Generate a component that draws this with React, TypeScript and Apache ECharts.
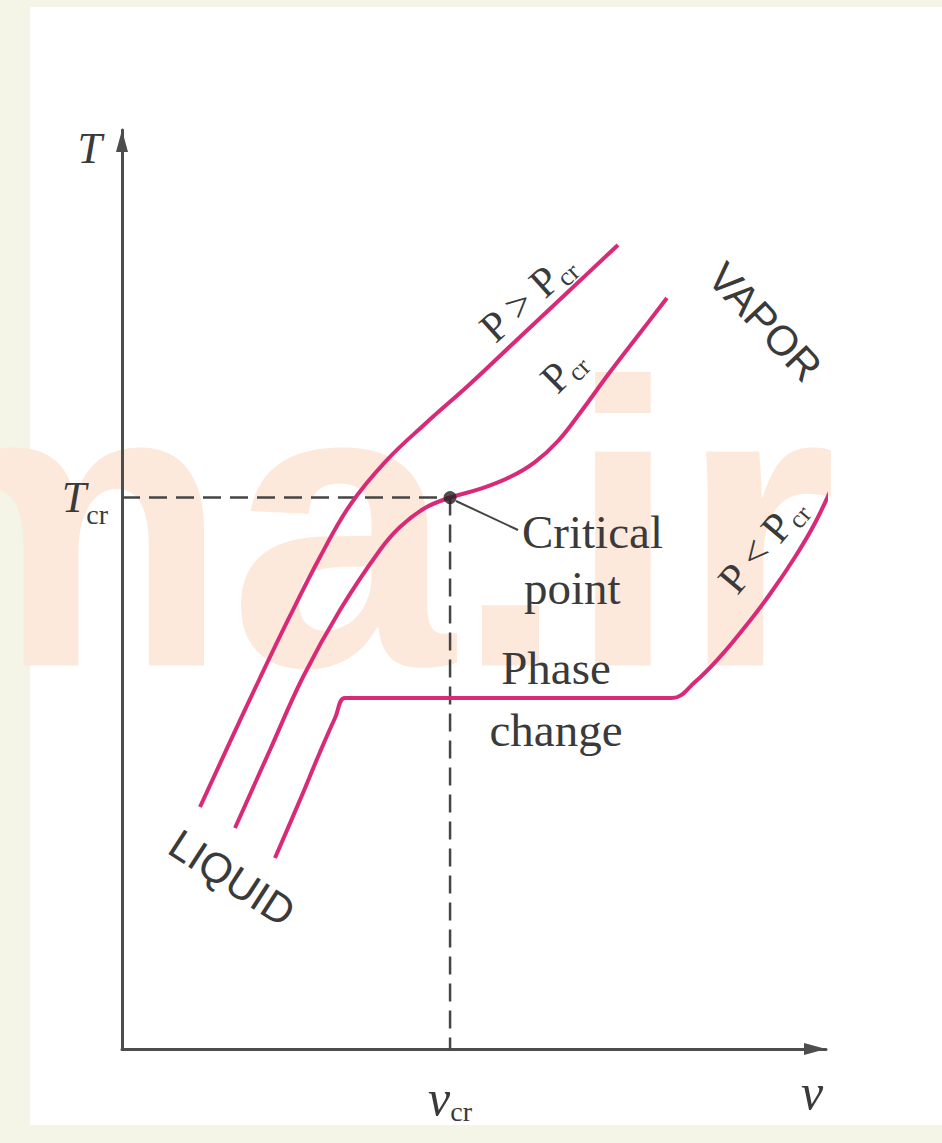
import { useEffect, useRef } from "react";
import * as echarts from "echarts";

// Critical state, in axis units (v along x, T along y)
const V_CR = 4.66;
const T_CR = 6.0;

// Axis extents
const V_MAX = 10;
const T_MAX = 10;

// Tick labels shown on the axes
const xTickValues = [V_CR];
const yTickValues = [T_CR];

// Isobar above the critical pressure (P > Pcr)
const isobarHigh: [number, number][] = [
  [1.108, 2.633], [1.534, 3.341], [1.96, 4.037], [2.386, 4.712], [2.813, 5.354],
  [3.239, 5.919], [3.736, 6.387], [4.304, 6.801], [4.943, 7.236], [5.653, 7.748],
  [6.364, 8.259], [7.045, 8.749],
];

// Critical isobar (P = Pcr), through the critical point
const isobarCritical: [number, number][] = [
  [1.605, 2.405], [2.102, 3.254], [2.571, 4.048], [3.097, 4.777], [3.665, 5.43],
  [3.949, 5.68], [4.304, 5.887], [V_CR, T_CR], [5.085, 6.094], [5.511, 6.224],
  [5.866, 6.387], [6.193, 6.616], [6.506, 6.921], [6.932, 7.367], [7.358, 7.791],
  [7.741, 8.172],
];

// Isobar below the critical pressure (P < Pcr), with its phase-change plateau
const isobarLow: [number, number][] = [
  [2.173, 2.078], [2.528, 2.709], [2.813, 3.232], [3.026, 3.602], [3.168, 3.819],
  [3.45, 3.819], [7.5, 3.819], [7.813, 3.819], [8.139, 3.993], [8.494, 4.266],
  [8.849, 4.592], [9.205, 4.951], [9.56, 5.354], [9.844, 5.724], [10.099, 6.137],
];

// Dashed guides from the critical point to both axes
const tcrGuide: [number, number][] = [[0, T_CR], [V_CR, T_CR]];
const vcrGuide: [number, number][] = [[V_CR, T_CR], [V_CR, 0]];

const SERIF = '"Liberation Serif", "Times New Roman", serif';
const SANS = '"Liberation Sans", Arial, sans-serif';
const INK = "#3a3a3a";
const CURVE = "#d92a78";
const AXIS = "#4d4d4d";

const deg = (d: number) => (d * Math.PI) / 180;

const pressureRich = {
  p: { fontFamily: SERIF, fontSize: 42, lineHeight: 50, fill: INK },
  s: { fontFamily: SERIF, fontSize: 26, padding: [22, 0, 0, 0], fill: INK },
};

function pressureLabel(x: number, y: number, angle: number, text: string) {
  return {
    type: "text",
    x,
    y,
    rotation: deg(angle),
    silent: true,
    style: { text, rich: pressureRich, align: "center", verticalAlign: "middle", fill: INK },
  };
}

function plainLabel(x: number, y: number, text: string, font: string, align = "left", angle = 0) {
  return {
    type: "text",
    x,
    y,
    rotation: deg(angle),
    silent: true,
    style: { text, font, fill: INK, align, verticalAlign: "middle" },
  };
}

function curveSeries(name: string, data: [number, number][]) {
  return {
    name,
    type: "line",
    data,
    smooth: 0.4,
    symbol: "none",
    clip: false,
    lineStyle: { color: CURVE, width: 4 },
    z: 3,
  };
}

function guideSeries(name: string, data: [number, number][]) {
  return {
    name,
    type: "line",
    data,
    symbol: "none",
    clip: false,
    lineStyle: { color: "#454545", width: 2.5, type: [18, 9] },
    z: 2,
  };
}

const axisLine = {
  show: true,
  symbol: ["none", "triangle"],
  symbolSize: [12, 22],
  symbolOffset: [0, -11],
  lineStyle: { color: AXIS, width: 3 },
};

export default function App() {
  const ref = useRef<HTMLDivElement>(null);

  useEffect(() => {
    if (!ref.current) return;
    const chart = echarts.init(ref.current, undefined, { renderer: "svg" });

    chart.setOption({
      animation: false,
      backgroundColor: "#f4f5e7",
      grid: { left: 122, right: 116, top: 130, bottom: 94 },
      xAxis: {
        type: "value",
        min: 0,
        max: V_MAX,
        name: "v",
        nameLocation: "end",
        nameGap: -14,
        nameTextStyle: {
          fontFamily: SERIF,
          fontStyle: "italic",
          fontSize: 50,
          color: INK,
          align: "center",
          verticalAlign: "top",
          padding: [18, 0, 0, 0],
        },
        axisLine,
        axisTick: { show: false },
        splitLine: { show: false },
        axisLabel: {
          customValues: xTickValues,
          margin: 22,
          formatter: () => "{v|v}{s|cr}",
          rich: {
            v: { fontFamily: SERIF, fontStyle: "italic", fontSize: 50, lineHeight: 50, color: INK },
            s: { fontFamily: SERIF, fontSize: 28, padding: [26, 0, 0, 0], color: INK },
          },
        },
      },
      yAxis: {
        type: "value",
        min: 0,
        max: T_MAX,
        name: "T",
        nameLocation: "end",
        nameGap: -18,
        nameTextStyle: {
          fontFamily: SERIF,
          fontStyle: "italic",
          fontSize: 44,
          color: INK,
          align: "right",
          verticalAlign: "middle",
          padding: [0, 20, 0, 0],
        },
        axisLine,
        axisTick: { show: false },
        splitLine: { show: false },
        axisLabel: {
          customValues: yTickValues,
          margin: 14,
          formatter: () => "{t|T}{s|cr}",
          rich: {
            t: { fontFamily: SERIF, fontStyle: "italic", fontSize: 44, lineHeight: 44, color: INK },
            s: { fontFamily: SERIF, fontSize: 28, padding: [34, 0, 0, 0], color: INK },
          },
        },
      },
      series: [
        guideSeries("Tcr", tcrGuide),
        guideSeries("vcr", vcrGuide),
        curveSeries("P > Pcr", isobarHigh),
        curveSeries("Pcr", isobarCritical),
        curveSeries("P < Pcr", isobarLow),
        {
          name: "Critical point",
          type: "scatter",
          data: [[V_CR, T_CR]],
          symbolSize: 13,
          itemStyle: { color: "#222" },
          z: 5,
        },
      ],
      graphic: [
        {
          type: "rect",
          z: -20,
          silent: true,
          shape: { x: 30, y: 7, width: 912, height: 1118 },
          style: { fill: "#ffffff" },
        },
        {
          type: "text",
          z: -10,
          x: -131,
          y: 525,
          silent: true,
          style: {
            text: "ma.ir",
            font: `bold 405px ${SANS}`,
            fill: "#fde9db",
            align: "left",
            verticalAlign: "middle",
          },
        },
        {
          type: "line",
          silent: true,
          shape: { x1: 456, y1: 501, x2: 518, y2: 530 },
          style: { stroke: "#444", lineWidth: 2 },
        },
        plainLabel(522, 532, "Critical", `47px ${SERIF}`),
        plainLabel(524, 588, "point", `47px ${SERIF}`),
        plainLabel(556, 668, "Phase", `47px ${SERIF}`, "center"),
        plainLabel(556, 730, "change", `47px ${SERIF}`, "center"),
        plainLabel(765, 322, "VAPOR", `42px ${SANS}`, "center", -47),
        plainLabel(232, 878, "LIQUID", `42px ${SANS}`, "center", -33),
        pressureLabel(527, 297, 42, "{p|P > P}{s|cr}"),
        pressureLabel(563, 370, 45, "{p|P}{s|cr}"),
        pressureLabel(762, 545, 50, "{p|P < P}{s|cr}"),
      ],
    });

    return () => chart.dispose();
  }, []);

  return (
    <div
      ref={ref}
      style={{ position: "absolute", left: 0, top: 0, width: 942, height: 1143 }}
    />
  );
}
